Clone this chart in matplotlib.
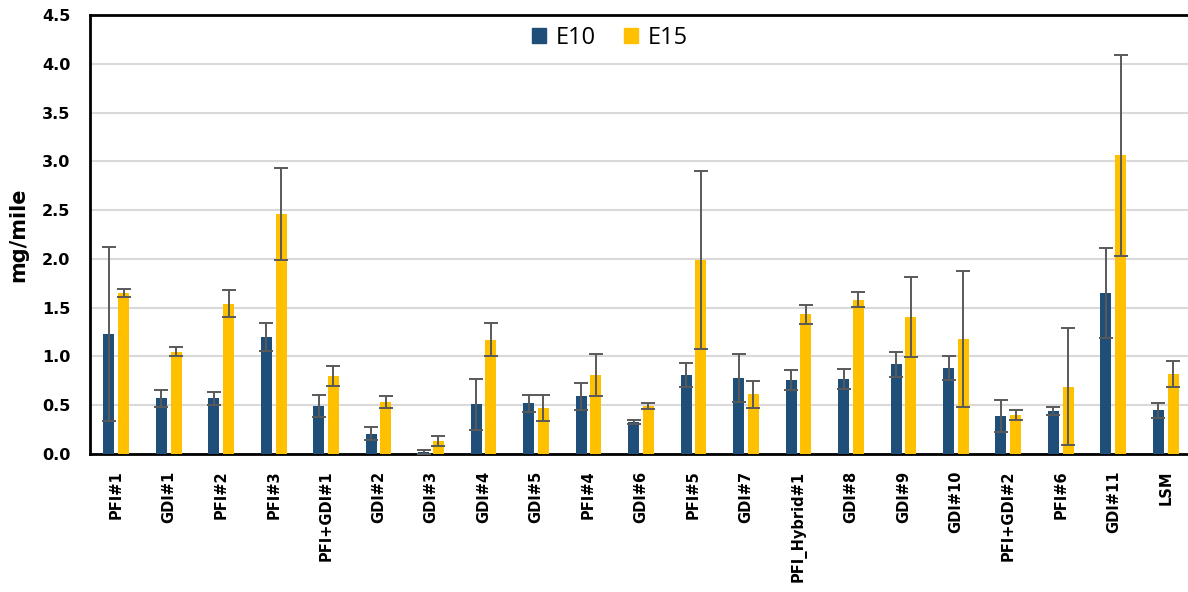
import numpy as np
import matplotlib
matplotlib.use("Agg")
import matplotlib.pyplot as plt
import matplotlib.patches as mpatches

categories = ["PFI#1", "GDI#1", "PFI#2", "PFI#3", "PFI+GDI#1", "GDI#2", "GDI#3",
              "GDI#4", "GDI#5", "PFI#4", "GDI#6", "PFI#5", "GDI#7", "PFI_Hybrid#1",
              "GDI#8", "GDI#9", "GDI#10", "PFI+GDI#2", "PFI#6", "GDI#11", "LSM"]

e10 = [1.23, 0.57, 0.57, 1.20, 0.49, 0.21, 0.02, 0.51, 0.52, 0.59,
       0.33, 0.81, 0.78, 0.76, 0.77, 0.92, 0.88, 0.39, 0.44, 1.65, 0.45]
e10_err = [0.89, 0.09, 0.07, 0.14, 0.11, 0.07, 0.02, 0.26, 0.085, 0.14,
           0.02, 0.125, 0.245, 0.105, 0.10, 0.13, 0.12, 0.165, 0.04, 0.46, 0.077]
e15 = [1.65, 1.05, 1.54, 2.46, 0.80, 0.53, 0.13, 1.17, 0.47, 0.81,
       0.49, 1.99, 0.61, 1.43, 1.58, 1.40, 1.18, 0.40, 0.69, 3.06, 0.82]
e15_err = [0.04, 0.05, 0.14, 0.47, 0.10, 0.06, 0.05, 0.17, 0.13, 0.22,
           0.03, 0.91, 0.14, 0.10, 0.077, 0.41, 0.70, 0.047, 0.60, 1.03, 0.13]

E10_COLOR = "#1F4E79"
E15_COLOR = "#FFC000"
ERR_COLOR = "#595959"

x = np.arange(len(categories))

fig = plt.figure(figsize=(11.88, 5.92), dpi=100)
ax = fig.add_axes([90 / 1188, 1 - 454 / 592, 1102 / 1188, 439 / 592])

err_kw = dict(ecolor=ERR_COLOR, elinewidth=1.4, capsize=5, capthick=1.4)
ax.bar(x - 0.14, e10, width=0.21, color=E10_COLOR, yerr=e10_err, error_kw=err_kw, zorder=3)
ax.bar(x + 0.14, e15, width=0.21, color=E15_COLOR, yerr=e15_err, error_kw=err_kw, zorder=3)

yticks = np.arange(0, 4.51, 0.5)
ax.set_xlim(-0.5, len(categories) - 0.5)
ax.set_ylim(0, 4.5)
ax.set_yticks(yticks)
ax.set_yticklabels([f"{v:.1f}" for v in yticks], fontsize=11.5, fontweight="bold")
ax.set_xticks(x)
ax.set_xticklabels(categories, rotation=90, fontsize=10.5, fontweight="bold")
ax.tick_params(axis="both", length=0)
ax.tick_params(axis="y", pad=14)
ax.tick_params(axis="x", pad=12)

ax.yaxis.grid(True, color="#D9D9D9", linewidth=1.5, zorder=0)
ax.set_axisbelow(True)
for side in ["left", "top", "bottom"]:
    ax.spines[side].set_linewidth(2)
    ax.spines[side].set_color("black")
ax.spines["right"].set_visible(False)

ax.set_ylabel("mg/mile", fontsize=15, fontweight="bold")
ax.yaxis.set_label_coords(-0.056, 0.5)

handles = [mpatches.Patch(color=E10_COLOR, label="E10"),
           mpatches.Patch(color=E15_COLOR, label="E15")]
ax.legend(handles=handles, loc="center", bbox_to_anchor=(0.472, 0.948), ncol=2,
          frameon=False, prop={"family": "Open Sans", "size": 17},
          handlelength=0.6, handleheight=0.6, handletextpad=0.4, columnspacing=1.2)

fig.savefig("out.png", dpi=100)
plt.close(fig)
